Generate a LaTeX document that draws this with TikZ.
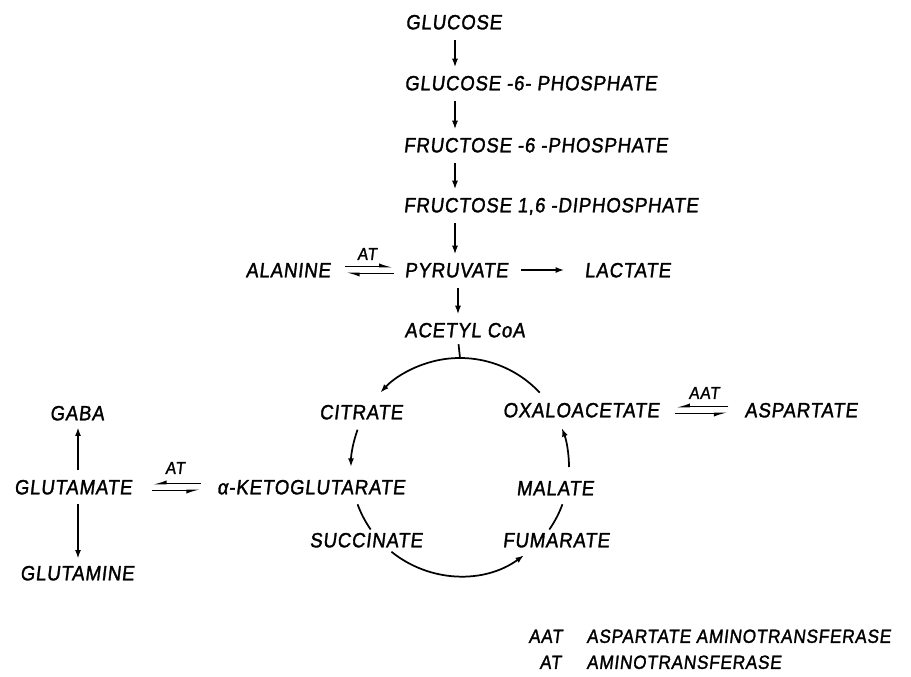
\documentclass[tikz,border=0pt]{standalone}
\usepackage{fontspec}
\setmainfont{Liberation Sans}[FakeSlant=0.12,FakeStretch=0.9,FakeBold=1.5,LetterSpace=4]
\usetikzlibrary{arrows.meta,calc}
\begin{document}
\begin{tikzpicture}[x=0.75pt,y=0.75pt,
  txt/.style={font=\fontsize{15.5}{18}\selectfont, inner sep=1pt, text height=11pt, text depth=0pt},
  leg/.style={font=\fontsize{14.3}{17}\selectfont, inner sep=1pt, text height=10.3pt, text depth=0pt},
  small/.style={font=\fontsize{13}{15}\selectfont, inner sep=1pt},
  arr/.style={line width=1.3pt, -{Latex[length=6.5pt,width=4.5pt]}},
  col/.style={arr, shorten <=7pt, shorten >=5pt},
  ln/.style={line width=1.3pt},
  hl/.style={line width=1.2pt, -{Latex[left,length=8pt,width=5pt]}},
  hr/.style={line width=1.2pt, -{Latex[right,length=8pt,width=5pt]}}]
\useasboundingbox (0,0) rectangle (911,-677);
% glycolysis column
\node[txt,anchor=west] (glc) at (404,-22) {GLUCOSE};
\node[txt,anchor=west] (g6p) at (403,-83) {GLUCOSE -6- PHOSPHATE};
\node[txt,anchor=west] (f6p) at (402,-145) {FRUCTOSE -6 -PHOSPHATE};
\node[txt,anchor=west] (f16) at (402,-205) {FRUCTOSE 1,6 -DIPHOSPHATE};
\node[txt,anchor=west] (pyr) at (403,-270) {PYRUVATE};
\node[txt,anchor=west] (lac) at (583,-270) {LACTATE};
\node[txt] (ala) at (288,-270) {ALANINE};
\node[txt,anchor=west] (acoa) at (403,-330) {ACETYL CoA};
\coordinate (colx) at (455,0);
\coordinate (coly) at (458,0);
\draw[col] (glc.south -| colx) -- (g6p.north -| colx);
\draw[col] (g6p.south -| colx) -- (f6p.north -| colx);
\draw[col] (f6p.south -| colx) -- (f16.north -| colx);
\draw[col] (f16.south -| colx) -- (pyr.north -| colx);
\draw[col] (pyr.south -| coly) -- (acoa.north -| coly);
\draw[arr,shorten <=9pt,shorten >=14pt] (pyr.east) -- (lac.west);
% alanine <=> pyruvate
\draw[hl,shorten <=10pt,shorten >=7pt] ([yshift=2.5]ala.east) -- ([yshift=2.5]pyr.west);
\draw[hl,shorten <=7pt,shorten >=10pt] ([yshift=-2.5]pyr.west) -- ([yshift=-2.5]ala.east);
\node[small] (at1) at (367,-254) {AT};
% TCA cycle
\coordinate (cc) at (460,-467);
\node[txt] (cit) at (361,-412) {CITRATE};
\node[txt] (oaa) at (581,-410) {OXALOACETATE};
\node[txt] (asp) at (801,-410) {ASPARTATE};
\node[txt] (akg) at (311,-487) {α-KETOGLUTARATE};
\node[txt] (mal) at (555,-488) {MALATE};
\node[txt] (suc) at (366,-540) {SUCCINATE};
\node[txt] (fum) at (556,-540) {FUMARATE};
\coordinate (top) at ($(cc)+(90:109)$);
\draw[ln,shorten <=4pt] (acoa.south -| coly) -- (top);
\draw[arr] ($(cc)+(43:109)$) arc[start angle=43,end angle=137,radius=109];
\draw[arr] ($(cc)+(160:109)$) arc[start angle=160,end angle=180,radius=109];
\draw[ln] ($(cc)+(200:109)$) arc[start angle=200,end angle=215,radius=109];
\draw[arr] ($(cc)+(231:109)$) arc[start angle=231,end angle=306,radius=109];
\draw[ln] ($(cc)+(325:109)$) arc[start angle=325,end angle=340,radius=109];
\draw[arr] ($(cc)+(0:109)$) arc[start angle=0,end angle=21,radius=109];
% oxaloacetate <=> aspartate
\draw[hr,shorten <=11pt,shorten >=11pt] ([yshift=2.5]asp.west) -- ([yshift=2.5]oaa.east);
\draw[hr,shorten <=11pt,shorten >=11pt] ([yshift=-2.5]oaa.east) -- ([yshift=-2.5]asp.west);
\node[small] (aat1) at (704,-393) {AAT};
% glutamate branch
\node[txt] (gaba) at (77,-413) {GABA};
\node[txt] (glu) at (73,-487) {GLUTAMATE};
\node[txt] (gln) at (77,-573) {GLUTAMINE};
\coordinate (glx) at (78,0);
\draw[arr,shorten <=6pt,shorten >=4pt] (glu.north -| glx) -- (gaba.south -| glx);
\draw[arr,shorten <=6pt,shorten >=4pt] (glu.south -| glx) -- (gln.north -| glx);
\draw[hr,shorten <=11pt,shorten >=14pt] ([yshift=2.5]akg.west) -- ([yshift=2.5]glu.east);
\draw[hr,shorten <=14pt,shorten >=11pt] ([yshift=-2.5]glu.east) -- ([yshift=-2.5]akg.west);
\node[small] (at2) at (175,-468) {AT};
% legend
\node[leg,anchor=west] (lg1a) at (527,-636) {AAT};
\node[leg,anchor=west] (lg1b) at (585,-636) {ASPARTATE AMINOTRANSFERASE};
\node[leg,anchor=west] (lg2a) at (538,-662) {AT};
\node[leg,anchor=west] (lg2b) at (585,-662) {AMINOTRANSFERASE};
\end{tikzpicture}
\end{document}
